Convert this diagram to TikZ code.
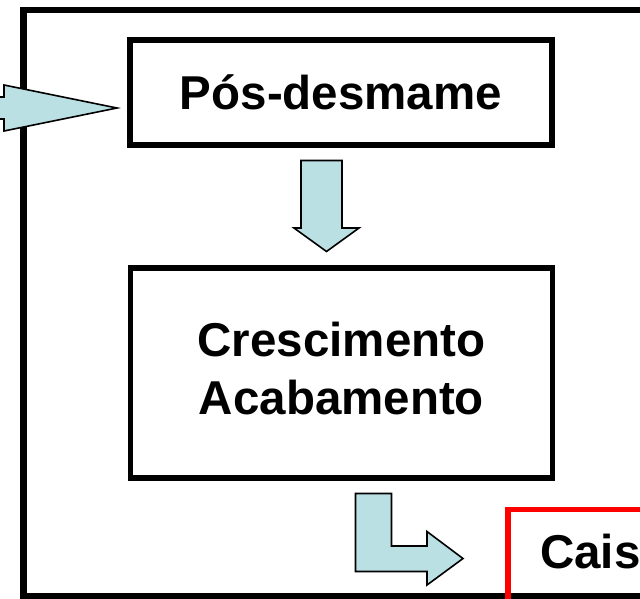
\documentclass[tikz,border=0pt]{standalone}
\usepackage{fontspec}
\setmainfont{Liberation Sans}
\usetikzlibrary{positioning}
\definecolor{setaazul}{RGB}{187,224,227}

\tikzset{
  caixa/.style={draw, line width=5.5pt, minimum width=422pt, align=center,
    font=\bfseries\fontsize{47.5}{58}\selectfont},
  rotulo/.style={font=\bfseries\fontsize{47.5}{58}\selectfont, inner sep=0pt},
  seta/.style={draw, line width=1.6pt, fill=setaazul, line join=miter}
}

\begin{document}
\begin{tikzpicture}[x=1pt,y=-1pt]
  \clip (0,0) rectangle (640,598);
  % moldura externa
  \draw[line width=6.5pt] (23.5,10) rectangle (720,596.5);
  % etapas
  \node[caixa, minimum height=105pt] (pos) at (341,92.5) {Pós-desmame};
  \node[caixa, minimum height=210pt, text depth=10pt] (cresc) at (341.5,373) {Crescimento\\Acabamento};
  \draw[red, line width=5.5pt] (508,509.5) rectangle (720,660);
  \node[rotulo, anchor=base west] (cais) at (540,568) {Cais};
  % setas
  \draw[seta] (-10,97) -- (4,97) -- (4,85) -- (117,108) -- (4,131) -- (4,119) -- (-10,119) -- cycle;
  \draw[seta] (301,160.5) -- (342,160.5) -- (342,228) -- (359,228) -- (326.5,251.5)
    -- (294,228) -- (301,228) -- cycle;
  \draw[seta] (355.5,493.5) -- (391.5,493.5) -- (391.5,546) -- (427,546) -- (427,531.5)
    -- (463,558.5) -- (427,585) -- (427,571.5) -- (355.5,571.5) -- cycle;
\end{tikzpicture}
\end{document}
